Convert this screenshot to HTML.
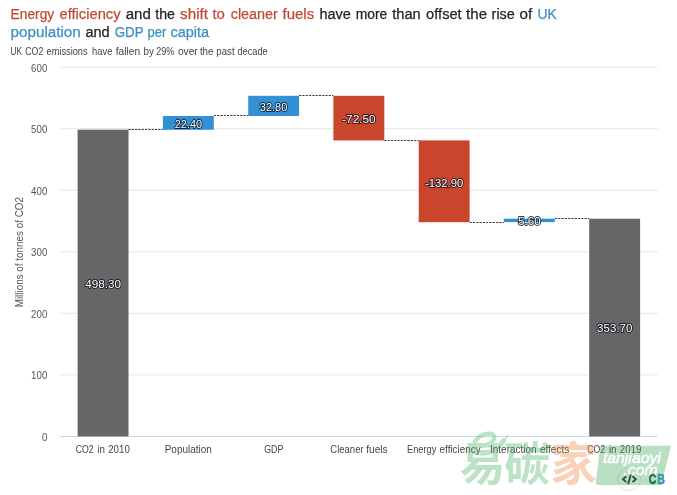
<!DOCTYPE html>
<html><head><meta charset="utf-8"><title>UK CO2 emissions</title>
<style>
html,body{margin:0;padding:0;background:#fff;}
body{width:677px;height:495px;overflow:hidden;font-family:"Liberation Sans",sans-serif;}
svg{display:block}
text{font-family:"Liberation Sans",sans-serif;}
.t{font-size:15.5px;fill:#222}
.sub{font-size:10.1px;fill:#444}
.ax{font-size:10.2px;fill:#555}
.xl{font-size:10.1px;fill:#444}
.lab{font-size:11.4px;fill:#fff;stroke:rgba(5,10,25,0.8);stroke-width:1.8px;paint-order:stroke fill;stroke-linejoin:round}
.wm{font-family:"Liberation Sans","Noto Sans CJK SC",sans-serif;font-weight:bold}
</style></head><body>
<svg width="677" height="495" viewBox="0 0 677 495">
<rect width="677" height="495" fill="#fff"/>
<text class="t" y="18.8"><tspan x="10.6" textLength="43.6" lengthAdjust="spacingAndGlyphs" style="fill:#be4a34;stroke:#be4a34;stroke-width:0.25px">Energy</tspan> <tspan x="59.5" textLength="61.1" lengthAdjust="spacingAndGlyphs" style="fill:#be4a34;stroke:#be4a34;stroke-width:0.25px">efficiency</tspan> <tspan x="125.7" textLength="25.2" lengthAdjust="spacingAndGlyphs" style="fill:#222;stroke:#222;stroke-width:0.25px">and</tspan> <tspan x="155.2" textLength="19.8" lengthAdjust="spacingAndGlyphs" style="fill:#222;stroke:#222;stroke-width:0.25px">the</tspan> <tspan x="180.1" textLength="28.0" lengthAdjust="spacingAndGlyphs" style="fill:#be4a34;stroke:#be4a34;stroke-width:0.25px">shift</tspan> <tspan x="212.4" textLength="12.5" lengthAdjust="spacingAndGlyphs" style="fill:#be4a34;stroke:#be4a34;stroke-width:0.25px">to</tspan> <tspan x="230.7" textLength="47.2" lengthAdjust="spacingAndGlyphs" style="fill:#be4a34;stroke:#be4a34;stroke-width:0.25px">cleaner</tspan> <tspan x="282.5" textLength="31.7" lengthAdjust="spacingAndGlyphs" style="fill:#be4a34;stroke:#be4a34;stroke-width:0.25px">fuels</tspan> <tspan x="319.4" textLength="31.5" lengthAdjust="spacingAndGlyphs" style="fill:#222;stroke:#222;stroke-width:0.25px">have</tspan> <tspan x="355.7" textLength="31.6" lengthAdjust="spacingAndGlyphs" style="fill:#222;stroke:#222;stroke-width:0.25px">more</tspan> <tspan x="392.2" textLength="28.6" lengthAdjust="spacingAndGlyphs" style="fill:#222;stroke:#222;stroke-width:0.25px">than</tspan> <tspan x="426.1" textLength="35.6" lengthAdjust="spacingAndGlyphs" style="fill:#222;stroke:#222;stroke-width:0.25px">offset</tspan> <tspan x="466.1" textLength="21.0" lengthAdjust="spacingAndGlyphs" style="fill:#222;stroke:#222;stroke-width:0.25px">the</tspan> <tspan x="491.6" textLength="23.2" lengthAdjust="spacingAndGlyphs" style="fill:#222;stroke:#222;stroke-width:0.25px">rise</tspan> <tspan x="519.5" textLength="12.7" lengthAdjust="spacingAndGlyphs" style="fill:#222;stroke:#222;stroke-width:0.25px">of</tspan> <tspan x="537.4" textLength="19.3" lengthAdjust="spacingAndGlyphs" style="fill:#3a8fc0;stroke:#3a8fc0;stroke-width:0.25px">UK</tspan></text>
<text class="t" y="36.8"><tspan x="10.6" textLength="70.2" lengthAdjust="spacingAndGlyphs" style="fill:#3a8fc0;stroke:#3a8fc0;stroke-width:0.25px">population</tspan> <tspan x="85.4" textLength="24.3" lengthAdjust="spacingAndGlyphs" style="fill:#222;stroke:#222;stroke-width:0.25px">and</tspan> <tspan x="114.7" textLength="28.6" lengthAdjust="spacingAndGlyphs" style="fill:#3a8fc0;stroke:#3a8fc0;stroke-width:0.25px">GDP</tspan> <tspan x="147.6" textLength="18.7" lengthAdjust="spacingAndGlyphs" style="fill:#3a8fc0;stroke:#3a8fc0;stroke-width:0.25px">per</tspan> <tspan x="170.5" textLength="38.6" lengthAdjust="spacingAndGlyphs" style="fill:#3a8fc0;stroke:#3a8fc0;stroke-width:0.25px">capita</tspan></text>
<text class="sub" y="54.5"><tspan x="10.4" textLength="11.6" lengthAdjust="spacingAndGlyphs">UK</tspan> <tspan x="25.3" textLength="18.0" lengthAdjust="spacingAndGlyphs">CO2</tspan> <tspan x="46.6" textLength="41.0" lengthAdjust="spacingAndGlyphs">emissions</tspan> <tspan x="92.1" textLength="20.3" lengthAdjust="spacingAndGlyphs">have</tspan> <tspan x="115.7" textLength="24.5" lengthAdjust="spacingAndGlyphs">fallen</tspan> <tspan x="143.5" textLength="10.3" lengthAdjust="spacingAndGlyphs">by</tspan> <tspan x="156.2" textLength="18.0" lengthAdjust="spacingAndGlyphs">29%</tspan> <tspan x="177.9" textLength="19.8" lengthAdjust="spacingAndGlyphs">over</tspan> <tspan x="199.9" textLength="13.6" lengthAdjust="spacingAndGlyphs">the</tspan> <tspan x="216.3" textLength="18.3" lengthAdjust="spacingAndGlyphs">past</tspan> <tspan x="237.5" textLength="30.1" lengthAdjust="spacingAndGlyphs">decade</tspan></text>
<line x1="59.2" x2="657.8" y1="374.9" y2="374.9" stroke="#e6e6e6" stroke-width="1"/>
<line x1="59.2" x2="657.8" y1="313.3" y2="313.3" stroke="#e6e6e6" stroke-width="1"/>
<line x1="59.2" x2="657.8" y1="251.8" y2="251.8" stroke="#e6e6e6" stroke-width="1"/>
<line x1="59.2" x2="657.8" y1="190.2" y2="190.2" stroke="#e6e6e6" stroke-width="1"/>
<line x1="59.2" x2="657.8" y1="128.7" y2="128.7" stroke="#e6e6e6" stroke-width="1"/>
<line x1="59.2" x2="657.8" y1="67.2" y2="67.2" stroke="#e6e6e6" stroke-width="1"/>
<text class="ax" x="41.9" y="440.9" textLength="5.4" lengthAdjust="spacingAndGlyphs">0</text>
<text class="ax" x="31.099999999999994" y="379.4" textLength="16.2" lengthAdjust="spacingAndGlyphs">100</text>
<text class="ax" x="31.099999999999994" y="317.8" textLength="16.2" lengthAdjust="spacingAndGlyphs">200</text>
<text class="ax" x="31.099999999999994" y="256.3" textLength="16.2" lengthAdjust="spacingAndGlyphs">300</text>
<text class="ax" x="31.099999999999994" y="194.7" textLength="16.2" lengthAdjust="spacingAndGlyphs">400</text>
<text class="ax" x="31.099999999999994" y="133.2" textLength="16.2" lengthAdjust="spacingAndGlyphs">500</text>
<text class="ax" x="31.099999999999994" y="71.7" textLength="16.2" lengthAdjust="spacingAndGlyphs">600</text>
<text class="ax" style="font-size:10.2px" transform="translate(22.500,307.300) rotate(-90)" textLength="110.300" lengthAdjust="spacingAndGlyphs">Millions of tonnes of CO2</text>
<rect x="77.6" y="129.7" width="50.9" height="306.7" fill="#666666"/>
<line x1="128.5" x2="162.9" y1="129.5" y2="129.5" stroke="#3a3a3a" stroke-width="1" stroke-dasharray="2.2,1.1"/>
<rect x="162.9" y="116.0" width="50.9" height="13.8" fill="#3390d4"/>
<line x1="213.8" x2="248.2" y1="115.5" y2="115.5" stroke="#3a3a3a" stroke-width="1" stroke-dasharray="2.2,1.1"/>
<rect x="248.2" y="95.8" width="50.9" height="20.2" fill="#3390d4"/>
<line x1="299.1" x2="333.4" y1="95.5" y2="95.5" stroke="#3a3a3a" stroke-width="1" stroke-dasharray="2.2,1.1"/>
<rect x="333.4" y="95.8" width="50.9" height="44.6" fill="#c9452b"/>
<line x1="384.3" x2="418.7" y1="140.5" y2="140.5" stroke="#3a3a3a" stroke-width="1" stroke-dasharray="2.2,1.1"/>
<rect x="418.7" y="140.4" width="50.9" height="81.8" fill="#c9452b"/>
<line x1="469.6" x2="503.9" y1="222.5" y2="222.5" stroke="#3a3a3a" stroke-width="1" stroke-dasharray="2.2,1.1"/>
<rect x="503.9" y="218.7" width="50.9" height="3.4" fill="#3390d4"/>
<line x1="554.9" x2="589.2" y1="218.5" y2="218.5" stroke="#3a3a3a" stroke-width="1" stroke-dasharray="2.2,1.1"/>
<rect x="589.2" y="218.7" width="50.9" height="217.7" fill="#666666"/>
<line x1="60.0" x2="657.8" y1="436.500" y2="436.500" stroke="rgba(40,90,100,0.24)" stroke-width="1"/>
<text class="lab" x="85.2" y="287.5" textLength="35.8" lengthAdjust="spacingAndGlyphs">498.30</text>
<text class="xl" y="453"><tspan x="75.7" textLength="17.9" lengthAdjust="spacingAndGlyphs">CO2</tspan> <tspan x="97.3" textLength="7.6" lengthAdjust="spacingAndGlyphs">in</tspan> <tspan x="108.2" textLength="21.6" lengthAdjust="spacingAndGlyphs">2010</tspan></text>
<text class="lab" x="174.8" y="128.0" textLength="27.2" lengthAdjust="spacingAndGlyphs">22.40</text>
<text class="xl" y="453"><tspan x="164.7" textLength="47.2" lengthAdjust="spacingAndGlyphs">Population</tspan></text>
<text class="lab" x="259.8" y="111.0" textLength="27.6" lengthAdjust="spacingAndGlyphs">32.80</text>
<text class="xl" y="453"><tspan x="264.3" textLength="19.0" lengthAdjust="spacingAndGlyphs">GDP</tspan></text>
<text class="lab" x="342.1" y="123.2" textLength="33.6" lengthAdjust="spacingAndGlyphs">-72.50</text>
<text class="xl" y="453"><tspan x="330.3" textLength="33.3" lengthAdjust="spacingAndGlyphs">Cleaner</tspan> <tspan x="366.2" textLength="21.4" lengthAdjust="spacingAndGlyphs">fuels</tspan></text>
<text class="lab" x="424.9" y="187.0" textLength="38.4" lengthAdjust="spacingAndGlyphs">-132.90</text>
<text class="xl" y="453"><tspan x="407.0" textLength="29.3" lengthAdjust="spacingAndGlyphs">Energy</tspan> <tspan x="439.6" textLength="41.0" lengthAdjust="spacingAndGlyphs">efficiency</tspan></text>
<text class="lab" x="518.1" y="225.3" textLength="22.6" lengthAdjust="spacingAndGlyphs">5.60</text>
<text class="xl" y="453"><tspan x="490.0" textLength="46.6" lengthAdjust="spacingAndGlyphs">Interaction</tspan> <tspan x="539.9" textLength="29.3" lengthAdjust="spacingAndGlyphs">effects</tspan></text>
<text class="lab" x="597.1" y="331.9" textLength="35.2" lengthAdjust="spacingAndGlyphs">353.70</text>
<text class="xl" y="453"><tspan x="587.3" textLength="17.9" lengthAdjust="spacingAndGlyphs">CO2</tspan> <tspan x="608.9" textLength="7.6" lengthAdjust="spacingAndGlyphs">in</tspan> <tspan x="619.8" textLength="21.6" lengthAdjust="spacingAndGlyphs">2019</tspan></text>
<circle cx="629.2" cy="479.2" r="11.4" fill="#fff" stroke="#e4e4e4" stroke-width="1"/>
<g fill="none" stroke="#222" stroke-width="1.9" stroke-linecap="butt" stroke-linejoin="miter"><path d="M626.300 476.300 L623 479.200 L626.300 482.100"/><path d="M632.500 476.300 L635.800 479.200 L632.500 482.100"/><path d="M630.900 474.100 L628.100 484.200"/></g>
<text y="483.700" font-size="15.200" font-weight="bold" stroke-width="0.7"><tspan x="648.700" textLength="7.600" lengthAdjust="spacingAndGlyphs" fill="#0d4a5c" stroke="#0d4a5c">C</tspan><tspan x="657.200" textLength="7.600" lengthAdjust="spacingAndGlyphs" fill="#3f8fd4" stroke="#3f8fd4">B</tspan></text>
<g opacity="0.36">
<path d="M481 446.200 C488 445.500 495.500 441 494.300 436.500 C493 432.300 484 432.600 478 437.800 C472.500 443 472.500 452.500 481 453.600 C491 454.800 500 446 504 440" fill="none" stroke="#48b365" stroke-width="4.200" stroke-linecap="round"/>
<path d="M499 444 C503 441 506 437 509 433 C507.500 438 505 443.500 501.500 447 Z" fill="#48b365"/>
<text class="wm" y="480" font-size="46"><tspan x="459.500" style="fill:#48b365">易</tspan><tspan x="504" style="fill:#48b365">碳</tspan><tspan x="550.500" style="fill:#ee8338">家</tspan></text>
<path d="M603 445.800 L671 445.800 L661.300 485 L598 485 Q595.300 485 595.800 482 L600 448.500 Q600.500 445.800 603 445.800 Z" fill="#43aa5c"/>
<text x="602.900" y="463.100" font-size="14.800" font-style="italic" textLength="58" lengthAdjust="spacingAndGlyphs" fill="#fff" stroke="#fff" stroke-width="0.5">tanjiaoyi</text>
<text x="623.500" y="475.300" font-size="14.800" font-style="italic" textLength="34" lengthAdjust="spacingAndGlyphs" fill="#fff" stroke="#fff" stroke-width="0.5">.com</text>
</g>
</svg></body></html>
